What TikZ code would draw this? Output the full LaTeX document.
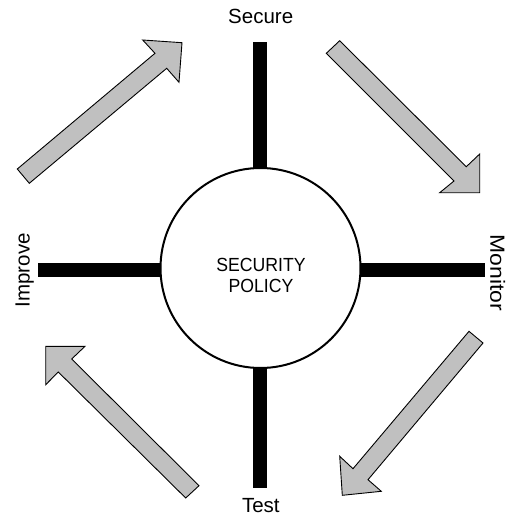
\documentclass[tikz,border=0pt]{standalone}
\usepackage{fontspec}
\setmainfont{Liberation Sans}
\newfontfamily\narrowsans[FakeStretch=0.93]{Liberation Sans}
\definecolor{arrowgray}{RGB}{192,192,192}
\begin{document}
\begin{tikzpicture}[x=1pt,y=-1pt,
  stage/.style={font=\fontsize{20.5}{24}\selectfont, inner sep=0pt, anchor=base},
  bar/.style={line width=14pt, line cap=butt},
  bigarrow/.style={draw=black, line width=0.9pt, fill=arrowgray, line join=miter},
  hub/.style={circle, draw, line width=2pt, minimum size=200pt, inner sep=0pt, outer sep=0pt}]
\useasboundingbox (0,0) rectangle (506,516);
% centre
\node[hub] (policy) at (260.5,268) {};
\node[font=\narrowsans\fontsize{19}{21}\selectfont, align=center, inner sep=0pt] (policytext) at (261,275) {SECURITY\\POLICY};
% bar ends
\coordinate (secureend) at (260,42);
\coordinate (testend) at (260,488);
\coordinate (improveend) at (38,269.5);
\coordinate (monitorend) at (485.3,269.5);
\draw[bar] (policy.north -| secureend) -- (secureend);
\draw[bar] (policy.south -| testend) -- (testend);
\draw[bar] (policy.west |- improveend) -- (improveend);
\draw[bar] (policy.east |- monitorend) -- (monitorend);
% labels
\node[stage] (secure) at (260.7,24) {Secure};
\node[stage] (test) at (260.8,512.3) {Test};
\node[stage, rotate=90] (improve) at (29.7,270.3) {Improve};
\node[stage, rotate=-90] (monitor) at (490.3,272.7) {\scalebox{1.12}[1]{Monitor}};
% block arrows
\draw[bigarrow] (17.3,169) -- (155,53.3) -- (142.7,40) -- (182,42.7) -- (179,82.3) -- (166.7,68.3) -- (29.3,183.3) -- cycle;
\draw[bigarrow] (339.7,40.7) -- (466.3,166.7) -- (479.7,154) -- (479.7,192.7) -- (439.7,192.7) -- (454,181) -- (326.3,53.3) -- cycle;
\draw[bigarrow] (469,331.3) -- (353,468.7) -- (339.7,456.3) -- (342.3,495.3) -- (381.3,491.3) -- (368,479.7) -- (483,343) -- cycle;
\draw[bigarrow] (185.7,498) -- (58.3,372) -- (45.7,384.7) -- (45.7,346.3) -- (85,346.3) -- (71.7,359) -- (199,485.7) -- cycle;
\end{tikzpicture}
\end{document}
